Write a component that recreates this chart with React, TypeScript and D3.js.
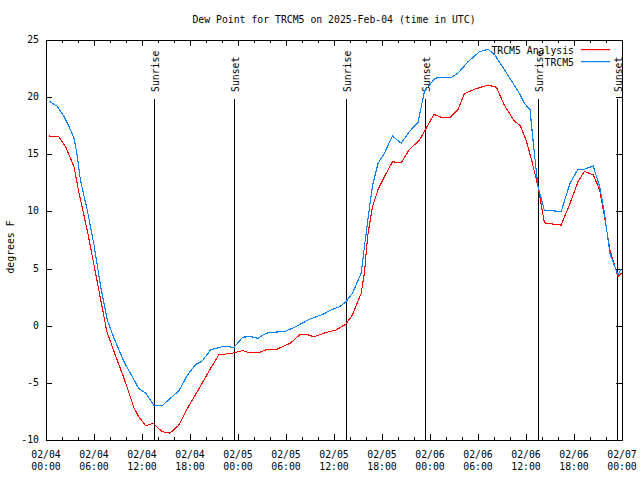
import React from "react";
import * as d3 from "d3";

const title = "Dew Point for TRCM5 on 2025-Feb-04 (time in UTC)";
const yLabel = "degrees F";
const seriesNames = ["TRCM5 Analysis", "TRCM5"];
const seriesColors = ["#ff0000", "#0080ff"];

// hours since 2025-02-04 00:00 UTC
const analysisHours = [0.4, 1.6, 2.46, 3.5, 4.1, 5.2, 6.4, 7.6, 8.5, 9.75, 11, 11.6, 12.46, 13.4, 14.5, 15.5, 16.6, 17.7, 19.3, 20.6, 21.6, 23.3, 24.6, 25.4, 26.7, 27.5, 28.75, 30.6, 31.7, 32.5, 33.5, 35, 36.25, 37.5, 38.3, 39.4, 39.8, 40.2, 40.8, 41.5, 42.5, 43.3, 44.4, 45.4, 46.7, 47.5, 48.5, 49.4, 50.5, 51.5, 52.3, 53.6, 55.25, 56.3, 57.3, 58.5, 59.3, 60, 60.7, 61.5, 62.3, 64.4, 65.5, 66.5, 67.3, 68.4, 69.2, 69.75, 70.5, 71.5, 71.9];
const analysisValues = [16.6, 16.55, 15.66, 13.9, 11.7, 8.2, 3.85, -0.5, -2.27, -4.6, -7.2, -7.96, -8.75, -8.54, -9.27, -9.4, -8.7, -7.2, -5.3, -3.7, -2.56, -2.4, -2.18, -2.36, -2.33, -2.1, -2.1, -1.5, -0.8, -0.75, -0.96, -0.6, -0.38, 0.15, 0.94, 2.84, 4.6, 7.8, 10.4, 11.9, 13.3, 14.35, 14.26, 15.4, 16.25, 17.27, 18.5, 18.23, 18.23, 18.9, 20.3, 20.7, 21.06, 20.86, 19.3, 17.94, 17.5, 16.25, 14.5, 12.2, 9.0, 8.8, 10.7, 12.6, 13.5, 13.2, 11.9, 9.8, 6.6, 4.3, 4.6];

const obsHours = [0.4, 1.4, 2.25, 2.9, 3.5, 3.9, 4.3, 5.2, 6, 6.8, 7.66, 8.5, 9.75, 11.6, 12.46, 13.5, 14.5, 16.6, 17.7, 18.7, 19.5, 20.6, 22.25, 23.5, 24.6, 25.6, 26.5, 27.5, 28.3, 29.8, 31.25, 32.9, 34.6, 35.8, 36.7, 37.5, 38.3, 39.4, 39.8, 40.2, 40.8, 41.5, 42.3, 43.3, 44.4, 45.4, 46.5, 47.3, 48.6, 49.4, 50.7, 51.5, 52.75, 54.2, 55.25, 56.1, 57.3, 58.4, 59.2, 59.8, 60.5, 61, 61.5, 62.3, 64.4, 65.5, 66.5, 67.3, 68.4, 69.2, 69.75, 70.5, 71.5, 71.9];
const obsValues = [19.66, 19.2, 18.3, 17.4, 16.4, 14.9, 12.75, 9.98, 7.06, 3.56, 0.5, -1.1, -3.15, -5.5, -5.9, -7.0, -7.0, -5.7, -4.3, -3.4, -3.1, -2.1, -1.8, -1.9, -1.0, -0.96, -1.1, -0.66, -0.57, -0.52, -0.08, 0.56, 1.0, 1.43, 1.66, 2.1, 2.84, 4.6, 6.9, 9.1, 12.2, 14.2, 15.1, 16.6, 15.96, 16.98, 17.77, 20.5, 21.65, 21.74, 21.74, 22.1, 23.1, 23.98, 24.18, 23.7, 22.4, 21.2, 20.3, 19.46, 18.9, 15.4, 12.2, 10.1, 10.0, 12.46, 13.7, 13.7, 13.97, 12.2, 10.1, 6.3, 4.43, 5.0];

const sunHours = [13.5, 23.5, 37.5, 47.35, 61.45, 71.4];
const sunLabels = ["Sunrise", "Sunset", "Sunrise", "Sunset", "Sunrise", "Sunset"];

const xTickHours = [0, 6, 12, 18, 24, 30, 36, 42, 48, 54, 60, 66, 72];
const xTickDates = ["02/04", "02/04", "02/04", "02/04", "02/05", "02/05", "02/05", "02/05", "02/06", "02/06", "02/06", "02/06", "02/07"];
const xTickTimes = ["00:00", "06:00", "12:00", "18:00", "00:00", "06:00", "12:00", "18:00", "00:00", "06:00", "12:00", "18:00", "00:00"];
const yTicks = [-10, -5, 0, 5, 10, 15, 20, 25];

const W = 640, H = 480;
const L = 46, R = 622, T = 40, B = 440;
const FONT = "'DejaVu Sans Mono', monospace";
const FS = 9.8;

export default function App() {
  const x = d3.scaleLinear().domain([0, 72]).range([L, R]);
  const y = d3.scaleLinear().domain([-10, 25]).range([B, T]);
  const line = d3.line<[number, number]>().x(d => x(d[0])).y(d => y(d[1]));
  const aData = analysisHours.map((h, i) => [h, analysisValues[i]] as [number, number]);
  const oData = obsHours.map((h, i) => [h, obsValues[i]] as [number, number]);
  const minor = d3.range(0, 73, 2).filter(h => h % 6 !== 0);

  return (
    <div style={{ position: "absolute", left: 0, top: 0 }}>
      <svg width={W} height={H} style={{ display: "block", background: "#fff" }} fontFamily={FONT} fontSize={FS}>
        <rect x={0} y={0} width={W} height={H} fill="#fff" />
        <text x={(L + R) / 2} y={20} textAnchor="middle" dominantBaseline="middle">{title}</text>
        <text transform={`translate(11,247) rotate(-90)`} textAnchor="middle" dominantBaseline="middle">{yLabel}</text>

        {yTicks.map(v => (
          <g key={"y" + v} shapeRendering="crispEdges">
            <line x1={L} x2={L + 6} y1={Math.round(y(v)) + 0.5} y2={Math.round(y(v)) + 0.5} stroke="#000" />
            <line x1={R - 6} x2={R} y1={Math.round(y(v)) + 0.5} y2={Math.round(y(v)) + 0.5} stroke="#000" />
            <text x={39} y={y(v)} textAnchor="end" dominantBaseline="middle">{v}</text>
          </g>
        ))}
        {xTickHours.map((h, i) => (
          <g key={"x" + h} shapeRendering="crispEdges">
            <line x1={Math.round(x(h)) + 0.5} x2={Math.round(x(h)) + 0.5} y1={B} y2={B - 6} stroke="#000" />
            <line x1={Math.round(x(h)) + 0.5} x2={Math.round(x(h)) + 0.5} y1={T} y2={T + 6} stroke="#000" />
            <text x={x(h)} y={455} textAnchor="middle" dominantBaseline="middle">{xTickDates[i]}</text>
            <text x={x(h)} y={467} textAnchor="middle" dominantBaseline="middle">{xTickTimes[i]}</text>
          </g>
        ))}
        {minor.map(h => (
          <g key={"m" + h} shapeRendering="crispEdges">
            <line x1={Math.round(x(h)) + 0.5} x2={Math.round(x(h)) + 0.5} y1={B} y2={B - 3} stroke="#000" />
            <line x1={Math.round(x(h)) + 0.5} x2={Math.round(x(h)) + 0.5} y1={T} y2={T + 3} stroke="#000" />
          </g>
        ))}

        {sunHours.map((h, i) => (
          <g key={"s" + i}>
            <line x1={Math.round(x(h)) + 0.5} x2={Math.round(x(h)) + 0.5} y1={99} y2={B} stroke="#000" shapeRendering="crispEdges" />
            <text transform={`translate(${x(h) + 2},92) rotate(-90)`} textAnchor="start" dominantBaseline="middle">{sunLabels[i]}</text>
          </g>
        ))}

        <path d={line(aData) || ""} fill="none" stroke={seriesColors[0]} strokeWidth={1.1} shapeRendering="crispEdges" />
        <path d={line(oData) || ""} fill="none" stroke={seriesColors[1]} strokeWidth={1.1} shapeRendering="crispEdges" />

        {seriesNames.map((n, i) => (
          <g key={"l" + i}>
            <text x={574} y={50.5 + i * 12} textAnchor="end" dominantBaseline="middle">{n}</text>
            <rect x={581} y={49 + i * 12} width={29} height={1.2} fill={seriesColors[i]} />
          </g>
        ))}

        <rect x={L + 0.5} y={T + 0.5} width={R - L} height={B - T} fill="none" stroke="#000" shapeRendering="crispEdges" />
      </svg>
    </div>
  );
}
